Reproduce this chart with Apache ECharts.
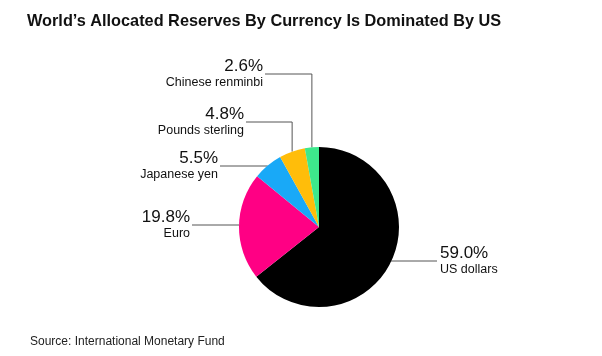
<!DOCTYPE html>
<html>
<head>
<meta charset="utf-8">
<script src="https://cdn.jsdelivr.net/npm/echarts@6/dist/echarts.min.js"></script>
<style>html,body{margin:0;padding:0;background:#fff;}#main{width:602px;height:356px;}</style>
</head>
<body>
<div id="main"></div>
<script>
var categories = ['US dollars', 'Euro', 'Japanese yen', 'Pounds sterling', 'Chinese renminbi'];
var shares = [59.0, 19.8, 5.5, 4.8, 2.6];
var colors = ['#000000', '#ff0084', '#19a9f7', '#ffbd0a', '#3ee88c'];
var titleText = 'World\u2019s Allocated Reserves By Currency Is Dominated By US';
var sourceText = 'Source: International Monetary Fund';

// label anchors: [x, y, align, elbow]
var labelSpots = [
  [440, 261, 'left', null],
  [190, 225, 'right', null],
  [218, 166, 'right', null],
  [244, 122, 'right', 'elbow'],
  [263, 74, 'right', 'elbow']
];

var chart = echarts.init(document.getElementById('main'), null, {renderer: 'canvas'});
var data = categories.map(function (c, i) {
  return {name: c, value: shares[i], itemStyle: {color: colors[i]}};
});
chart.setOption({
  animation: false,
  title: [{
    text: titleText, left: 27, top: 14, padding: 0,
    textStyle: {fontFamily: 'Liberation Sans, Arial', fontWeight: 'bold', fontSize: 16.3, color: '#111'}
  }, {
    text: sourceText, left: 30, top: 336, padding: 0,
    textStyle: {fontFamily: 'Liberation Sans, Arial', fontWeight: 'normal', fontSize: 12, color: '#222'}
  }],
  series: [{
    type: 'pie',
    center: [319, 227],
    radius: [0, 80],
    startAngle: 90,
    clockwise: true,
    data: data,
    itemStyle: {borderWidth: 0},
    emphasis: {disabled: true},
    label: {
      show: true,
      position: 'outside',
      formatter: function (p) { return '{v|' + p.value.toFixed(1) + '%}\n{n|' + p.name + '}'; },
      rich: {
        v: {fontFamily: 'Liberation Sans, Arial', fontSize: 17, color: '#111', lineHeight: 18},
        n: {fontFamily: 'Liberation Sans, Arial', fontSize: 12.5, color: '#111', lineHeight: 15}
      }
    },
    labelLine: {show: true, lineStyle: {color: '#555', width: 1}, length: 10, length2: 10},
    labelLayout: function (params) {
      var s = labelSpots[params.dataIndex];
      var p0 = params.labelLinePoints ? params.labelLinePoints[0] : [0, 0];
      var pts;
      var endX = s[2] === 'left' ? s[0] - 3 : s[0] + 2;
      if (s[3] === 'elbow') {
        pts = [[p0[0], p0[1]], [p0[0], s[1]], [endX, s[1]]];
      } else {
        pts = [[p0[0], s[1]], [p0[0], s[1]], [endX, s[1]]];
      }
      return {x: s[0], y: s[1], align: s[2], verticalAlign: 'middle', labelLinePoints: pts};
    }
  }]
});
</script>
</body>
</html>
